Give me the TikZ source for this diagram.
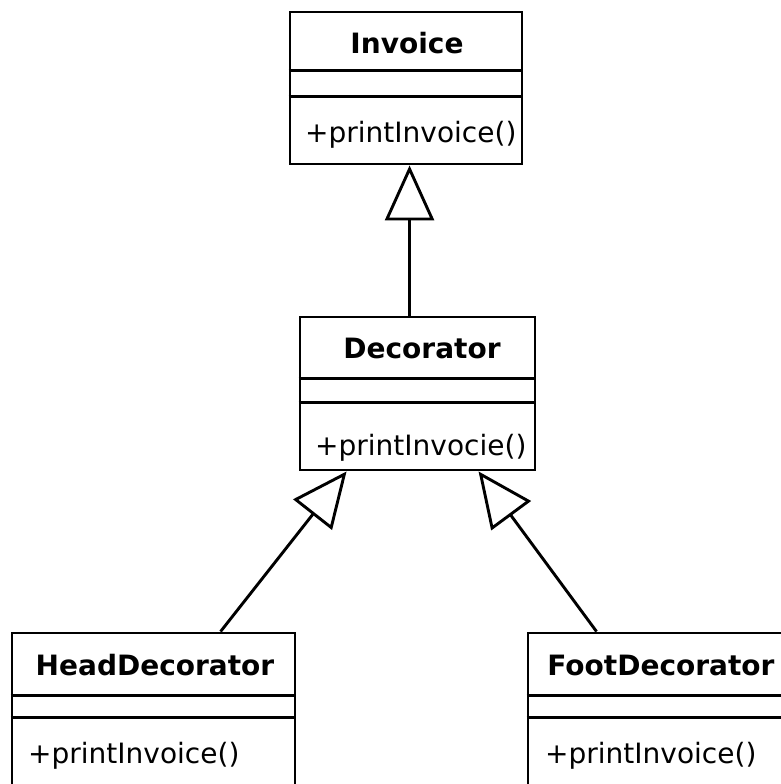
\documentclass[tikz,border=0pt]{standalone}
\usepackage{fontspec}
\setmainfont{DejaVu Sans}
\usetikzlibrary{arrows.meta}
\tikzset{
  umlbox/.style={draw=black, line width=2.9pt, fill=white, inner sep=0pt},
  ctitle/.style={font=\fontsize{28}{30}\selectfont\bfseries, inner sep=0pt, anchor=base},
  cmeth/.style={font=\fontsize{28}{30}\selectfont, inner sep=0pt, anchor=base west},
  divider/.style={draw=black, line width=2.9pt},
  inherit/.style={draw=black, line width=2.9pt, line join=miter,
    -{Triangle[open, length=55pt, width=49pt, fill=white]}}
}
\begin{document}
\begin{tikzpicture}[x=1pt, y=-1pt]
\useasboundingbox (0,0) rectangle (781,784);
\clip (0,0) rectangle (781,784);
\fill[white] (0,0) rectangle (781,784);

% Invoice
\node[umlbox, minimum width=232pt, minimum height=152pt] (inv) at (406,88) {};
\draw[divider] ([yshift=-60pt]inv.north west) -- ([yshift=-60pt]inv.north east);
\draw[divider] ([yshift=-86pt]inv.north west) -- ([yshift=-86pt]inv.north east);
\node[ctitle] (invT) at (407,53) {Invoice};
\node[cmeth] (invM) at (305,142) {+printInvoice()};

% Decorator
\node[umlbox, minimum width=235pt, minimum height=153pt] (dec) at (417.5,393.5) {};
\draw[divider] ([yshift=-63pt]dec.north west) -- ([yshift=-63pt]dec.north east);
\draw[divider] ([yshift=-87pt]dec.north west) -- ([yshift=-87pt]dec.north east);
\node[ctitle] (decT) at (422,358) {Decorator};
\node[cmeth] (decM) at (315,455) {+printInvocie()};

% HeadDecorator
\node[umlbox, minimum width=283pt, minimum height=167pt] (head) at (153.5,716.5) {};
\draw[divider] ([yshift=-64pt]head.north west) -- ([yshift=-64pt]head.north east);
\draw[divider] ([yshift=-86pt]head.north west) -- ([yshift=-86pt]head.north east);
\node[ctitle] (headT) at (155,675) {HeadDecorator};
\node[cmeth] (headM) at (28,763) {+printInvoice()};

% FootDecorator
\node[umlbox, minimum width=282pt, minimum height=167pt] (foot) at (669,716.5) {};
\draw[divider] ([yshift=-64pt]foot.north west) -- ([yshift=-64pt]foot.north east);
\draw[divider] ([yshift=-86pt]foot.north west) -- ([yshift=-86pt]foot.north east);
\node[ctitle] (footT) at (661,675) {FootDecorator};
\node[cmeth] (footM) at (545,763) {+printInvoice()};

% Generalisations
\draw[inherit] ([xshift=111pt]dec.north west) -- ([xshift=121pt]inv.south west);
\draw[inherit] ([xshift=210pt]head.north west) -- ([xshift=48pt]dec.south west);
\draw[inherit] ([xshift=70pt]foot.north west) -- ([xshift=180pt]dec.south west);
\end{tikzpicture}
\end{document}
